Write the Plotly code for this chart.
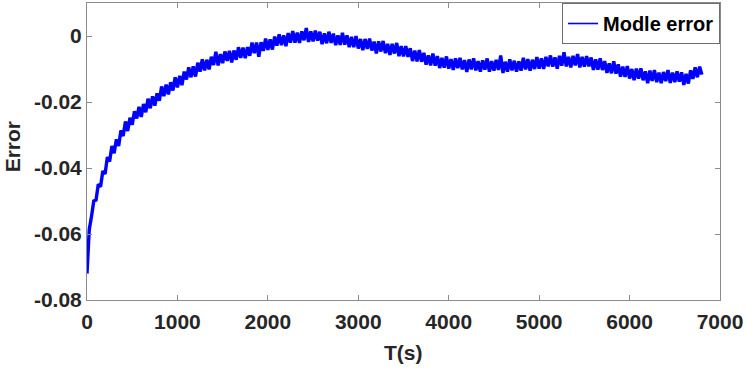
import plotly.graph_objects as go

# Time axis (s), one sample every 25 s
T_S = list(range(0, 6801, 25))

# Model error (hand-read, noisy), one row = 250 s
MODEL_ERROR = [
    -0.0720, -0.0586, -0.0546, -0.0500, -0.0497, -0.0449, -0.0457, -0.0409, -0.0418, -0.0367,
    -0.0380, -0.0333, -0.0355, -0.0313, -0.0333, -0.0286, -0.0303, -0.0259, -0.0288, -0.0248,
    -0.0269, -0.0228, -0.0250, -0.0215, -0.0245, -0.0206, -0.0231, -0.0190, -0.0219, -0.0183,
    -0.0211, -0.0174, -0.0196, -0.0153, -0.0182, -0.0147, -0.0177, -0.0140, -0.0165, -0.0125,
    -0.0156, -0.0121, -0.0149, -0.0108, -0.0132, -0.0095, -0.0125, -0.0092, -0.0123, -0.0081,
    -0.0108, -0.0071, -0.0104, -0.0072, -0.0101, -0.0063, -0.0088, -0.0048, -0.0089, -0.0055,
    -0.0082, -0.0047, -0.0075, -0.0045, -0.0080, -0.0044, -0.0072, -0.0034, -0.0066, -0.0035,
    -0.0067, -0.0034, -0.0060, -0.0020, -0.0052, -0.0020, -0.0063, -0.0019, -0.0045, -0.0008,
    -0.0042, -0.0010, -0.0041, -0.0002, -0.0029, 0.0005, -0.0028, 0.0002, -0.0031, 0.0009,
    -0.0020, 0.0015, -0.0020, 0.0010, -0.0021, 0.0014, -0.0013, 0.0024, -0.0018, 0.0014,
    -0.0016, 0.0016, -0.0014, 0.0013, -0.0025, 0.0008, -0.0022, 0.0013, -0.0021, 0.0007,
    -0.0028, 0.0002, -0.0027, 0.0010, -0.0026, 0.0002, -0.0034, -0.0003, -0.0034, 0.0000,
    -0.0038, -0.0009, -0.0043, -0.0009, -0.0039, -0.0008, -0.0044, -0.0017, -0.0053, -0.0016,
    -0.0047, -0.0015, -0.0052, -0.0024, -0.0057, -0.0024, -0.0053, -0.0021, -0.0061, -0.0031,
    -0.0062, -0.0031, -0.0063, -0.0037, -0.0076, -0.0044, -0.0077, -0.0043, -0.0078, -0.0051,
    -0.0087, -0.0059, -0.0089, -0.0053, -0.0090, -0.0061, -0.0097, -0.0066, -0.0096, -0.0062,
    -0.0099, -0.0070, -0.0103, -0.0068, -0.0097, -0.0066, -0.0101, -0.0073, -0.0109, -0.0071,
    -0.0101, -0.0068, -0.0104, -0.0076, -0.0108, -0.0074, -0.0102, -0.0068, -0.0108, -0.0076,
    -0.0105, -0.0072, -0.0103, -0.0059, -0.0112, -0.0078, -0.0108, -0.0071, -0.0104, -0.0075,
    -0.0108, -0.0077, -0.0105, -0.0066, -0.0101, -0.0070, -0.0105, -0.0072, -0.0100, -0.0064,
    -0.0099, -0.0068, -0.0100, -0.0063, -0.0092, -0.0059, -0.0093, -0.0065, -0.0099, -0.0060,
    -0.0090, -0.0049, -0.0092, -0.0063, -0.0095, -0.0060, -0.0089, -0.0055, -0.0095, -0.0063,
    -0.0093, -0.0061, -0.0092, -0.0065, -0.0103, -0.0071, -0.0102, -0.0068, -0.0103, -0.0076,
    -0.0112, -0.0083, -0.0113, -0.0077, -0.0114, -0.0086, -0.0123, -0.0093, -0.0124, -0.0091,
    -0.0129, -0.0100, -0.0134, -0.0099, -0.0129, -0.0098, -0.0134, -0.0107, -0.0143, -0.0105,
    -0.0136, -0.0103, -0.0140, -0.0111, -0.0143, -0.0109, -0.0137, -0.0103, -0.0142, -0.0111,
    -0.0140, -0.0107, -0.0138, -0.0110, -0.0148, -0.0115, -0.0144, -0.0104, -0.0130, -0.0095,
    -0.0125, -0.0093, -0.0117,
]

SERIES_NAME = "Modle error"

X_TICKS = [0, 1000, 2000, 3000, 4000, 5000, 6000, 7000]
X_TICK_TEXT = ["0", "1000", "2000", "3000", "4000", "5000", "6000", "7000"]
Y_TICKS = [0, -0.02, -0.04, -0.06, -0.08]
Y_TICK_TEXT = ["0", "-0.02", "-0.04", "-0.06", "-0.08"]

FONT = "Liberation Sans, Arial, sans-serif"
TEXT_COLOR = "#262626"
FRAME_COLOR = "#8c8c8c"
LINE_COLOR = "#0000ff"

fig = go.Figure()
fig.add_trace(go.Scatter(
    x=T_S, y=MODEL_ERROR, mode="lines", name=SERIES_NAME,
    line=dict(color=LINE_COLOR, width=3.4), showlegend=False,
))
# legend entry (thin sample line as in the reference)
fig.add_trace(go.Scatter(
    x=[None], y=[None], mode="lines", name=SERIES_NAME,
    line=dict(color=LINE_COLOR, width=1.6), showlegend=True,
))

axis_common = dict(
    showline=True, linecolor=FRAME_COLOR, linewidth=1, mirror="ticks",
    ticks="inside", ticklen=5, tickcolor=FRAME_COLOR, tickwidth=1,
    showgrid=False, zeroline=False,
    tickfont=dict(family=FONT, size=21, color=TEXT_COLOR, weight="bold"),
)

fig.update_layout(
    width=747, height=369,
    margin=dict(l=87, r=27, t=3, b=69, autoexpand=False),
    paper_bgcolor="white", plot_bgcolor="white",
    showlegend=True,
    legend=dict(
        x=1, y=1, xanchor="right", yanchor="top",
        bgcolor="white", bordercolor="#6e6e6e", borderwidth=1,
        font=dict(family=FONT, size=20, color="black", weight="bold"),
        tracegroupgap=0,
    ),
    xaxis=dict(range=[0, 7000], tickvals=X_TICKS, ticktext=X_TICK_TEXT,
               ticklabelstandoff=3, **axis_common),
    yaxis=dict(range=[-0.08, 0.01], tickvals=Y_TICKS, ticktext=Y_TICK_TEXT, **axis_common),
    annotations=[
        dict(text="T(s)", xref="paper", yref="paper", x=0.5, y=-0.178,
             xanchor="center", yanchor="middle", showarrow=False,
             font=dict(family=FONT, size=21, color=TEXT_COLOR, weight="bold")),
        dict(text="Error", xref="paper", yref="paper", x=-0.118, y=0.515,
             xanchor="center", yanchor="middle", showarrow=False, textangle=-90,
             font=dict(family=FONT, size=21, color=TEXT_COLOR, weight="bold")),
    ],
)

fig.write_html(
    "out.html",
    config={"displayModeBar": False},
    post_script="document.body.style.margin='0';",
)
